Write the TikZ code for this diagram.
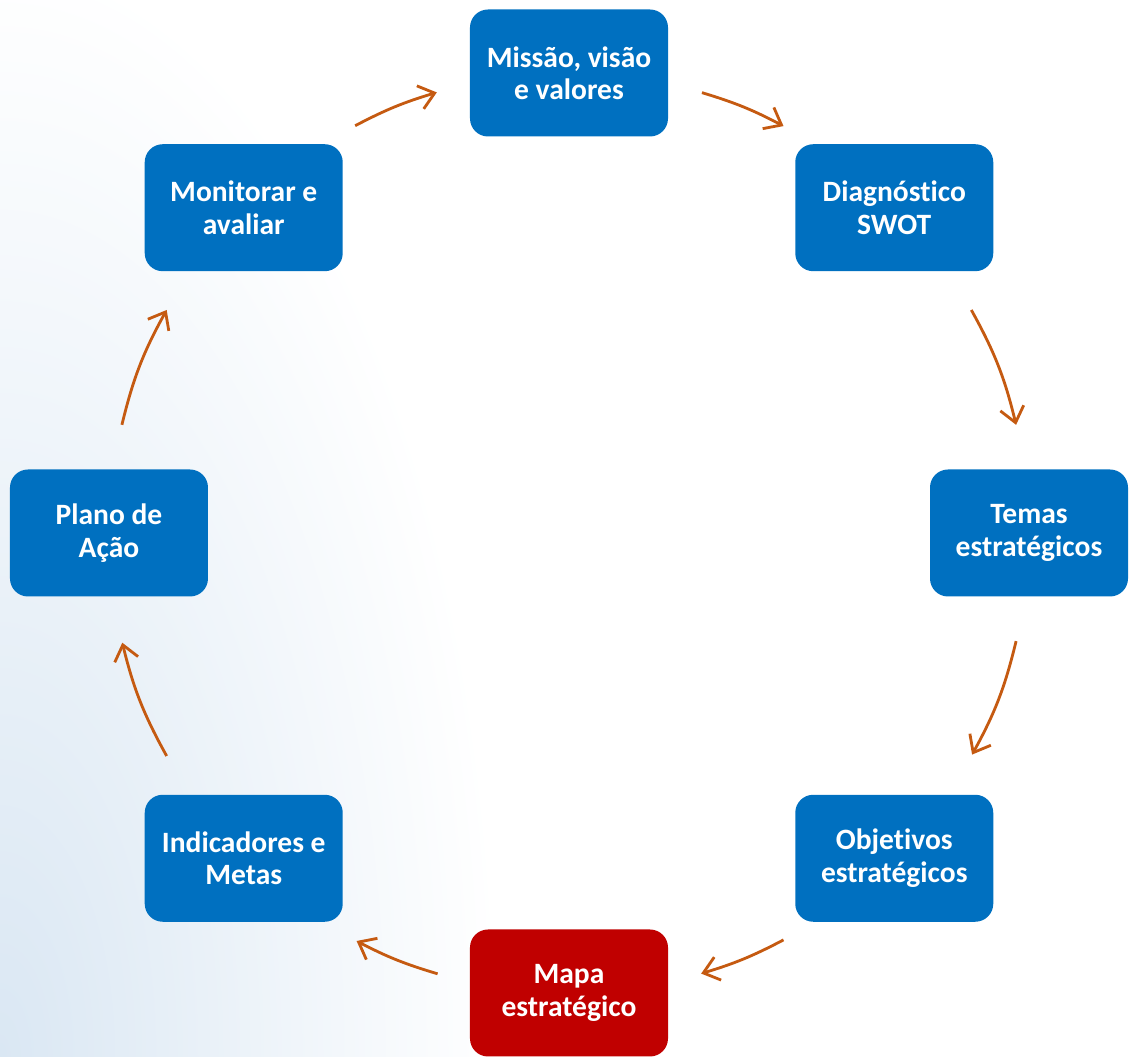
\documentclass[tikz,border=0pt]{standalone}
\usepackage{fontspec}
\setmainfont{Carlito}[Ligatures=NoCommon]
\usepackage{tikz}
\usetikzlibrary{arrows.meta,positioning}
\usepackage{xcolor}
\definecolor{boxblue}{RGB}{0,112,192}
\definecolor{boxred}{RGB}{192,0,0}
\definecolor{flowc}{RGB}{197,90,17}
\definecolor{bgblue}{RGB}{218,231,243}

\begin{document}
\begin{tikzpicture}[
    box/.style={fill=boxblue, rounded corners=0.36cm, minimum width=3.96cm, minimum height=2.54cm,
        inner sep=0pt, align=center, text=white, font=\fontsize{16.8}{18.4}\selectfont\bfseries},
    arrow/.style={-{Straight Barb[length=3mm, width=4.8mm]}, line width=1.6pt, draw=flowc}
]

\useasboundingbox (-11.38,-10.48) rectangle (11.22,10.66);

% faint background fade from the bottom left corner
\begin{scope}
    \clip (-11.38,-10.48) rectangle (11.22,10.66);
    \shade[inner color=bgblue, outer color=white] (-11.38,-10.48) ellipse (10 and 22);
\end{scope}

% ========== STEPS (clockwise, starting at top) ==========
\node[box] (missao) at (90:9.2) {Missão, visão\\e valores};
\node[box] (swot) at (45:9.2) {Diagnóstico\\SWOT};
\node[box] (temas) at (0:9.2) {Temas\\estratégicos};
\node[box] (obj) at (-45:9.2) {Objetivos\\estratégicos};
\node[box, fill=boxred] (mapa) at (-90:9.2) {Mapa\\estratégico};
\node[box] (ind) at (-135:9.2) {Indicadores e\\Metas};
\node[box] (plano) at (180:9.2) {Plano de\\Ação};
\node[box] (mon) at (135:9.2) {Monitorar e\\avaliar};

% ========== ARROWS (arcs between the boxes) ==========
\coordinate (a1) at (117.7:9.2); \coordinate (b1) at (106.7:9.2);
\coordinate (a2) at (73.2:9.2);  \coordinate (b2) at (62.2:9.2);
\coordinate (a3) at (29:9.2);    \coordinate (b3) at (13.6:9.2);
\coordinate (a4) at (-13.6:9.2); \coordinate (b4) at (-28.8:9.2);
\coordinate (a5) at (-62.2:9.2); \coordinate (b5) at (-73.3:9.2);
\coordinate (a6) at (-106.6:9.2); \coordinate (b6) at (-117.5:9.2);
\coordinate (a7) at (-151:9.2);  \coordinate (b7) at (-166.2:9.2);
\coordinate (a8) at (166.4:9.2); \coordinate (b8) at (151:9.2);

\draw[arrow] (a1) to[bend left=5.5] (b1);
\draw[arrow] (a2) to[bend left=5.5] (b2);
\draw[arrow] (a3) to[bend left=7.7] (b3);
\draw[arrow] (a4) to[bend left=7.6] (b4);
\draw[arrow] (a5) to[bend left=5.5] (b5);
\draw[arrow] (a6) to[bend left=5.5] (b6);
\draw[arrow] (a7) to[bend left=7.6] (b7);
\draw[arrow] (a8) to[bend left=7.7] (b8);

\end{tikzpicture}
\end{document}
